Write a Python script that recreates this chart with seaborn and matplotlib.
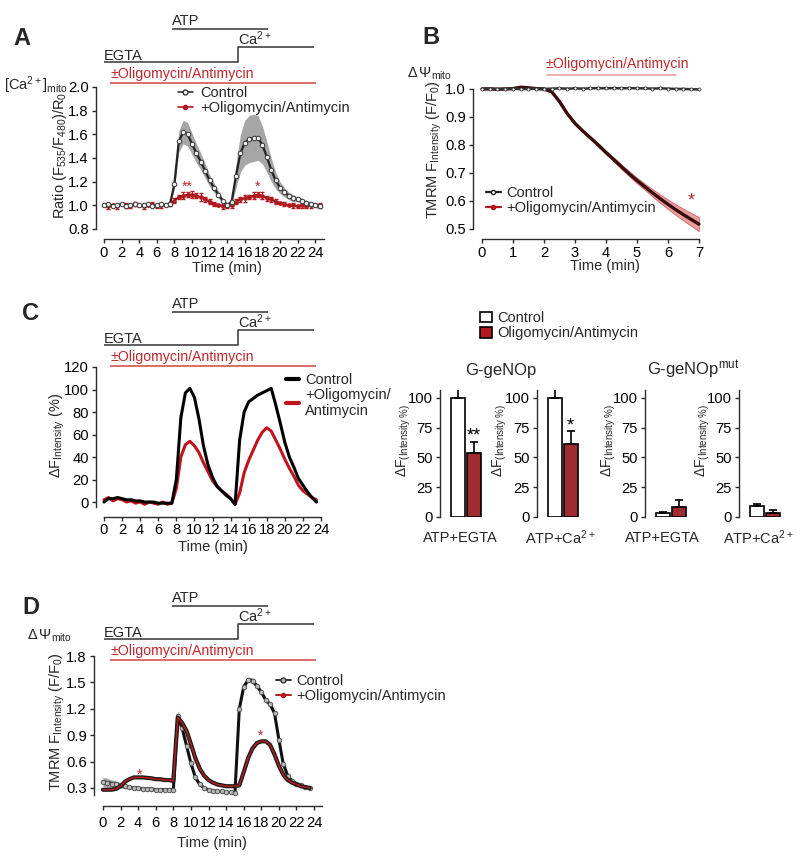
import numpy as np
import pandas as pd
import matplotlib
matplotlib.use('Agg')
import matplotlib.pyplot as plt
import seaborn as sns
from matplotlib.lines import Line2D
from matplotlib.patches import Patch

# ---------------- data ----------------
# Panel A: mitochondrial Ca2+ (ratio)
a_time = [0, 0.5, 1, 1.5, 2, 2.5, 3, 3.5, 4, 4.5, 5, 5.5, 6, 6.5, 7, 7.5, 8, 8.5, 9, 9.5,
          10, 10.5, 11, 11.5, 12, 12.5, 13, 13.5, 14, 14.5, 15, 15.5, 16, 16.5, 17, 17.5,
          18, 18.5, 19, 19.5, 20, 20.5, 21, 21.5, 22, 22.5, 23, 23.5, 24, 24.5]
a_ctrl = [1.00, 1.01, 0.99, 1.00, 1.01, 0.99, 1.00, 1.01, 1.00, 1.00,
          1.01, 0.99, 1.00, 1.01, 1.00, 1.01, 1.18, 1.54, 1.62, 1.60,
          1.52, 1.44, 1.37, 1.29, 1.21, 1.15, 1.09, 1.04, 1.00, 1.03,
          1.25, 1.44, 1.53, 1.56, 1.57, 1.57, 1.51, 1.41, 1.30, 1.21,
          1.15, 1.11, 1.08, 1.06, 1.05, 1.04, 1.02, 1.01, 1.00, 0.99]
a_ctrl_sem = [0.01, 0.01, 0.01, 0.01, 0.01, 0.01, 0.01, 0.01, 0.01, 0.01,
              0.01, 0.01, 0.01, 0.01, 0.01, 0.01, 0.04, 0.09, 0.10, 0.10,
              0.09, 0.08, 0.07, 0.06, 0.05, 0.04, 0.03, 0.02, 0.02, 0.03,
              0.10, 0.16, 0.19, 0.20, 0.20, 0.19, 0.16, 0.13, 0.10, 0.07,
              0.05, 0.04, 0.03, 0.03, 0.02, 0.02, 0.02, 0.02, 0.02, 0.02]
a_oa = [1.00, 0.99, 1.00, 0.99, 1.01, 1.00, 0.99, 1.01, 1.00, 0.99,
        1.00, 1.01, 0.99, 1.00, 1.00, 1.01, 1.04, 1.07, 1.08, 1.09,
        1.09, 1.08, 1.07, 1.05, 1.03, 1.01, 1.00, 0.99, 0.99, 1.00,
        1.03, 1.05, 1.06, 1.07, 1.08, 1.09, 1.08, 1.06, 1.05, 1.03,
        1.02, 1.01, 1.00, 1.00, 0.99, 1.00, 0.99, 1.00, 1.00, 1.00]
a_oa_sem = [0.01, 0.02, 0.01, 0.02, 0.01, 0.02, 0.01, 0.02, 0.01, 0.02,
            0.01, 0.02, 0.01, 0.02, 0.01, 0.02, 0.02, 0.02, 0.03, 0.02,
            0.03, 0.02, 0.03, 0.02, 0.02, 0.02, 0.01, 0.02, 0.01, 0.02,
            0.02, 0.02, 0.03, 0.02, 0.03, 0.02, 0.03, 0.02, 0.02, 0.02,
            0.01, 0.02, 0.01, 0.02, 0.01, 0.02, 0.01, 0.02, 0.01, 0.02]

# Panel B: TMRM
b_time = [0, 0.25, 0.5, 0.75, 1, 1.25, 1.5, 1.75, 2, 2.25, 2.5, 2.75, 3, 3.25, 3.5, 3.75,
          4, 4.25, 4.5, 4.75, 5, 5.25, 5.5, 5.75, 6, 6.25, 6.5, 6.75, 7]
b_ctrl = [1.000, 1.001, 0.999, 1.000, 1.001, 0.999, 1.000, 1.001, 1.000, 1.001, 1.002, 1.001,
          1.002, 1.001, 1.002, 1.003, 1.002, 1.003, 1.002, 1.003, 1.002, 1.002, 1.001, 1.002,
          1.001, 1.000, 1.000, 0.999, 0.998]
b_oa = [1.000, 1.000, 0.999, 1.000, 1.001, 1.006, 1.004, 1.001, 1.000, 0.990, 0.955, 0.912,
        0.877, 0.850, 0.825, 0.800, 0.773, 0.748, 0.722, 0.697, 0.673, 0.651, 0.629, 0.608,
        0.588, 0.569, 0.551, 0.534, 0.517]
b_oa_sem = [0.002, 0.002, 0.002, 0.002, 0.002, 0.003, 0.003, 0.002, 0.002, 0.003, 0.004, 0.004,
            0.005, 0.005, 0.005, 0.006, 0.006, 0.007, 0.008, 0.009, 0.010, 0.011, 0.013, 0.015,
            0.017, 0.019, 0.021, 0.023, 0.025]

# Panel C: G-geNOp traces
c_time = [0, 0.5, 1, 1.5, 2, 2.5, 3, 3.5, 4, 4.5, 5, 5.5, 6, 6.5, 7, 7.5, 8, 8.5, 9, 9.5,
          10, 10.5, 11, 11.5, 12, 12.5, 13, 13.5, 14, 14.5, 15, 15.5, 16, 16.5, 17, 17.5,
          18, 18.5, 19, 19.5, 20, 20.5, 21, 21.5, 22, 22.5, 23, 23.5]
c_ctrl = [0, 3, 3, 4, 3, 2, 2, 1, 1, 0, 0, 0, -1, -1, -1, -1,
          20, 75, 97, 101, 93, 74, 50, 33, 22, 14, 10, 6, 3, -2,
          55, 80, 89, 92, 95, 97, 99, 101, 86, 70, 53, 40, 31, 21, 15, 9, 4, 0]
c_oa = [2, 4, 1, 3, 2, 0, 1, -1, 0, -2, 0, -1, -2, 0, -2, -1,
        12, 40, 51, 54, 50, 44, 35, 27, 19, 14, 10, 7, 3, -2,
        8, 26, 37, 46, 55, 62, 66, 63, 55, 47, 38, 30, 23, 15, 10, 7, 4, 2]

# Panel C: bar charts
bar_groups = ['Control', 'Oligomycin/Antimycin']
bar_titles = ['G-geNOp', 'G-geNOp$^{\\rm mut}$']
bar_conditions = ['ATP+EGTA', 'ATP+Ca$^{2+}$', 'ATP+EGTA', 'ATP+Ca$^{2+}$']
bar_ctrl = [100, 100, 3, 9]
bar_ctrl_sem = [9, 9, 1.5, 2]
bar_oa = [54, 61, 8, 3]
bar_oa_sem = [9, 11, 6, 3]
bar_stars = ['**', '*', '', '']

# Panel D: TMRM during ATP / Ca2+
d_time = c_time
d_ctrl = [0.37, 0.36, 0.35, 0.34, 0.33, 0.32, 0.31, 0.30, 0.30, 0.29, 0.29, 0.29, 0.28, 0.28, 0.28, 0.28, 0.28,
          1.12, 0.98, 0.78, 0.58, 0.42, 0.34, 0.30, 0.28, 0.27, 0.26, 0.26, 0.25, 0.25, 0.24,
          1.20, 1.45, 1.53, 1.52, 1.46, 1.39, 1.30, 1.25, 1.15, 0.85, 0.57, 0.44, 0.38, 0.35, 0.33, 0.31, 0.30]
d_ctrl_sem = [0.05, 0.05, 0.04, 0.04, 0.03, 0.03, 0.02, 0.02, 0.02, 0.02, 0.02, 0.02, 0.02, 0.02, 0.02, 0.02, 0.02,
              0.06, 0.05, 0.04, 0.03, 0.02, 0.02, 0.02, 0.01, 0.01, 0.01, 0.01, 0.01, 0.01, 0.01,
              0.03, 0.03, 0.03, 0.03, 0.03, 0.03, 0.03, 0.03, 0.03, 0.02, 0.02, 0.02, 0.01, 0.01, 0.01, 0.01, 0.01]
d_oa = [0.28, 0.28, 0.28, 0.29, 0.32, 0.37, 0.40, 0.42, 0.42, 0.42, 0.415, 0.41, 0.40, 0.40, 0.39, 0.39, 0.38,
        1.10, 1.04, 0.95, 0.80, 0.64, 0.52, 0.44, 0.39, 0.36, 0.34, 0.33, 0.32, 0.32, 0.32,
        0.33, 0.48, 0.64, 0.75, 0.81, 0.83, 0.83, 0.79, 0.68, 0.55, 0.45, 0.39, 0.36, 0.34, 0.32, 0.31, 0.30]

# ---------------- style ----------------
sns.set_theme(style='ticks')
plt.rcParams.update({
    'font.family': ['Liberation Sans', 'DejaVu Sans'],
    'mathtext.fontset': 'custom',
    'mathtext.rm': 'Liberation Sans',
    'mathtext.it': 'Liberation Sans:italic',
    'mathtext.bf': 'Liberation Sans:bold',
    'axes.linewidth': 1.0,
    'axes.edgecolor': '#2b2b2b',
    'xtick.major.width': 1.0,
    'ytick.major.width': 1.0,
    'xtick.major.size': 3.2,
    'ytick.major.size': 3.2,
    'xtick.color': '#2b2b2b',
    'ytick.color': '#2b2b2b',
    'xtick.labelcolor': 'black',
    'ytick.labelcolor': 'black',
})

RED = '#b3191e'
TXTRED = '#c0282d'
TICKFS = 10.6
W, H = 800, 860
fig = plt.figure(figsize=(8, 8.6), dpi=100)


def add_ax(l, r, t, b):
    return fig.add_axes([l / W, 1 - b / H, (r - l) / W, (b - t) / H])


def ftext(x, y, s, **kw):
    return fig.text(x / W, 1 - y / H, s, **kw)


def fline(xs, ys, **kw):
    fig.add_artist(Line2D([x / W for x in xs], [1 - y / H for y in ys], **kw))


def style_ax(ax, xlim, ylim, xb, yb, xticks, yticks, fmt):
    ax.set_xlim(*xlim)
    ax.set_ylim(*ylim)
    for s in ('top', 'right'):
        ax.spines[s].set_visible(False)
    ax.spines['bottom'].set_bounds(*xb)
    ax.spines['left'].set_bounds(*yb)
    ax.set_xticks(xticks)
    ax.set_yticks(yticks)
    ax.set_yticklabels([fmt.format(v) for v in yticks])
    ax.tick_params(labelsize=TICKFS, pad=2)
    ax.set_xlabel('')
    ax.set_ylabel('')
    ax.set_facecolor('none')


def header(dy):
    k = dict(color='#333333', lw=1.1, solid_capstyle='butt')
    fline([172, 268], [29 + dy, 29 + dy], **k)
    fline([104, 238, 238, 314], [62 + dy, 62 + dy, 47 + dy, 47 + dy], **k)
    fline([110, 316], [83 + dy, 83 + dy], color='#d04545', lw=1.1, solid_capstyle='butt')
    ftext(172, 25 + dy, 'ATP', ha='left', va='baseline', fontsize=10.5)
    ftext(238, 45 + dy, 'Ca$^{2+}$', ha='left', va='baseline', fontsize=10.5)
    ftext(104, 60 + dy, 'EGTA', ha='left', va='baseline', fontsize=10.5)
    ftext(110, 78 + dy, '\u00b1Oligomycin/Antimycin', ha='left', va='baseline',
          fontsize=10.2, color=TXTRED)


even_ticks = list(range(0, 25, 2))

# ---------------- Panel A ----------------
ftext(13, 45, 'A', fontsize=17, fontweight='bold', va='baseline')
header(0)
axA = add_ax(96, 324, 87, 239)
axA.fill_between(a_time, np.array(a_ctrl) - np.array(a_ctrl_sem),
                 np.array(a_ctrl) + np.array(a_ctrl_sem), color='#a6a6a6', lw=0)
axA.errorbar(a_time, a_oa, yerr=a_oa_sem, fmt='none', ecolor=RED, elinewidth=0.7, capsize=1.2)
sns.lineplot(x=a_time, y=a_oa, ax=axA, color='#7a1010', lw=1.4, marker='o', markersize=2.8,
             markerfacecolor=RED, markeredgecolor=RED, markeredgewidth=0.5)
sns.lineplot(x=a_time, y=a_ctrl, ax=axA, color='#222222', lw=1.6, marker='o', markersize=3.2,
             markerfacecolor='white', markeredgecolor='#444444', markeredgewidth=0.8)
style_ax(axA, (-0.909, 25), (0.715, 2.0), (0, 25), (0.8, 2.0), even_ticks,
         [0.8, 1.0, 1.2, 1.4, 1.6, 1.8, 2.0], '{:.1f}')
axA.text(9.45, 1.12, '**', color=TXTRED, fontsize=10, ha='center', va='baseline')
axA.text(17.4, 1.12, '*', color=TXTRED, fontsize=10, ha='center', va='baseline')
ftext(60, 155, 'Ratio (F$_{535}$/F$_{480}$)/R$_0$', rotation=90, ha='center', va='center', fontsize=10.5)
ftext(4, 90, '[Ca$^{2+}$]$_{\\rm mito}$', ha='left', va='baseline', fontsize=10.5)
ftext(227, 268, 'Time (min)', ha='center', va='center', fontsize=10.5)
hA = [Line2D([0], [0], color='#333333', lw=1.2, marker='o', ms=3.5, mfc='white', mec='#333333'),
      Line2D([0], [0], color=RED, lw=1.2, marker='o', ms=3, mfc=RED, mec=RED)]
axA.legend(hA, ['Control', '+Oligomycin/Antimycin'], loc='upper left',
           bbox_to_anchor=(178 / W, 1 - 86 / H), bbox_transform=fig.transFigure,
           frameon=False, fontsize=10.5, handlelength=1.0, handletextpad=0.5,
           labelspacing=0.05, borderpad=0, borderaxespad=0)

# ---------------- Panel B ----------------
ftext(422, 44, 'B', fontsize=17, fontweight='bold', va='baseline')
fline([547, 676], [75, 75], color='#e59a9a', lw=1.1)
ftext(546, 68, '\u00b1Oligomycin/Antimycin', ha='left', va='baseline', fontsize=10.2, color=TXTRED)
axB = add_ax(473, 702, 85, 239)
axB.fill_between(b_time, np.array(b_oa) - np.array(b_oa_sem), np.array(b_oa) + np.array(b_oa_sem),
                 color='#dd7777', alpha=0.7, lw=0.6, edgecolor='#c43a3a')
sns.lineplot(x=b_time, y=b_oa, ax=axB, color='#3a0c0c', lw=2.4)
sns.lineplot(x=b_time, y=b_ctrl, ax=axB, color='#333333', lw=1.8, marker='o', markersize=2.2,
             markerfacecolor='white', markeredgecolor='#333333', markeredgewidth=0.6)
style_ax(axB, (-0.29, 7.1), (0.464, 1.014), (0, 7), (0.5, 1.0), list(range(0, 8)),
         [0.5, 0.6, 0.7, 0.8, 0.9, 1.0], '{:.1f}')
axB.text(6.74, 0.582, '*', color=TXTRED, fontsize=13, ha='center', va='baseline')
ftext(434, 150, 'TMRM F$_{\\rm Intensity}$ (F/F$_0$)', rotation=90, ha='center', va='center', fontsize=10.5)
ftext(407, 78, '$\\Delta\\,\\mathit{\\Psi}_{\\rm mito}$', ha='left', va='baseline', fontsize=10.5)
ftext(605, 266, 'Time (min)', ha='center', va='center', fontsize=10.5)
hB = [Line2D([0], [0], color='#222222', lw=1.6, marker='o', ms=3, mfc='white', mec='#222222'),
      Line2D([0], [0], color=RED, lw=1.6, marker='o', ms=3, mfc=RED, mec=RED)]
axB.legend(hB, ['Control', '+Oligomycin/Antimycin'], loc='upper left',
           bbox_to_anchor=(486 / W, 1 - 186 / H), bbox_transform=fig.transFigure,
           frameon=False, fontsize=10.5, handlelength=1.0, handletextpad=0.4,
           labelspacing=0.05, borderpad=0, borderaxespad=0)

# ---------------- Panel C (traces) ----------------
ftext(22, 320, 'C', fontsize=17, fontweight='bold', va='baseline')
header(283)
axC = add_ax(96, 321, 367, 517)
sns.lineplot(x=c_time, y=c_oa, ax=axC, color='#c0141c', lw=2.2)
sns.lineplot(x=c_time, y=c_ctrl, ax=axC, color='black', lw=2.2)
style_ax(axC, (-0.885, 24), (-13.3, 120), (0, 24), (-4, 120), even_ticks,
         [0, 20, 40, 60, 80, 100, 120], '{:d}')
axC.tick_params(axis='x', pad=0.8)
ftext(57, 435, '$\\Delta$F$_{\\rm Intensity}$ (%)', rotation=90, ha='center', va='center', fontsize=10.5)
ftext(213, 547, 'Time (min)', ha='center', va='center', fontsize=10.5)
hC = [Line2D([0], [0], color='black', lw=3), Line2D([0], [0], color='#c0141c', lw=3)]
axC.legend(hC, ['Control', '+Oligomycin/\nAntimycin'], loc='upper left',
           bbox_to_anchor=(286 / W, 1 - 373 / H), bbox_transform=fig.transFigure,
           frameon=False, fontsize=10.5, handlelength=0.9, handletextpad=0.4,
           labelspacing=0.05, borderpad=0, borderaxespad=0)

# ---------------- Panel C (bars) ----------------
bar_lefts = [440, 537, 645, 739]
bar_label_x = [404, 500, 609, 703]
bar_cond_x = [460, 560, 662, 758]
for i in range(4):
    ax = add_ax(bar_lefts[i], bar_lefts[i] + 49.6, 390, 517)
    df = pd.DataFrame({'group': bar_groups, 'value': [bar_ctrl[i], bar_oa[i]]})
    sns.barplot(data=df, x='group', y='value', hue='group', palette=['white', RED],
                edgecolor='black', linewidth=1.2, width=0.875, errorbar=None,
                legend=False, ax=ax)
    ax.errorbar([0, 1], [bar_ctrl[i], bar_oa[i]],
                yerr=[[0, 0], [bar_ctrl_sem[i], bar_oa_sem[i]]],
                fmt='none', ecolor='black', elinewidth=1.2, capsize=2.6, capthick=1.2, zorder=1)
    ax.set_xlim(-1.1, 2.0)
    ax.set_ylim(0, 106.7)
    for s in ('top', 'right', 'bottom'):
        ax.spines[s].set_visible(False)
    ax.set_xticks([])
    ax.set_yticks([0, 25, 50, 75, 100])
    ax.tick_params(axis='y', labelsize=TICKFS, pad=2)
    ax.set_xlabel('')
    ax.set_ylabel('')
    ax.set_facecolor('none')
    if bar_stars[i]:
        ax.text(1, bar_oa[i] + bar_oa_sem[i] + 1.0, bar_stars[i], fontsize=13,
                ha='center', va='baseline', color='black')
    ftext(bar_label_x[i], 440, '$\\Delta$F$_{\\rm (Intensity\\ \\%)}$', rotation=90,
          ha='center', va='center', fontsize=10)
    ftext(bar_cond_x[i], 538, bar_conditions[i], ha='center', va='center', fontsize=10.5)
    if i == 0:
        hBar = [Patch(facecolor='white', edgecolor='black', lw=1.2),
                Patch(facecolor=RED, edgecolor='black', lw=1.2)]
        ax.legend(hBar, bar_groups, loc='upper left',
                  bbox_to_anchor=(480 / W, 1 - 311 / H), bbox_transform=fig.transFigure,
                  frameon=False, fontsize=10.5, handlelength=0.8, handleheight=0.75,
                  handletextpad=0.35, labelspacing=0.1, borderpad=0, borderaxespad=0)
ftext(501, 370, bar_titles[0], ha='center', va='center', fontsize=12)
ftext(693, 370, bar_titles[1], ha='center', va='center', fontsize=12)

# ---------------- Panel D ----------------
ftext(22, 614, 'D', fontsize=17, fontweight='bold', va='baseline')
header(577)
axD = add_ax(94, 322, 656, 806)
axD.fill_between(d_time, np.array(d_ctrl) - np.array(d_ctrl_sem),
                 np.array(d_ctrl) + np.array(d_ctrl_sem), color='#a0a0a0', lw=0)
sns.lineplot(x=d_time, y=d_ctrl, ax=axD, color='#111111', lw=2.2, marker='o', markersize=3.2,
             markerfacecolor='#bbbbbb', markeredgecolor='#555555', markeredgewidth=0.7)
sns.lineplot(x=d_time, y=d_oa, ax=axD, color='#1a1a1a', lw=3.0)
sns.lineplot(x=d_time, y=d_oa, ax=axD, color='#b51f1f', lw=1.1)
style_ax(axD, (-1.02, 24.9), (0.095, 1.8), (0, 24.9), (0.22, 1.8), even_ticks,
         [0.3, 0.6, 0.9, 1.2, 1.5, 1.8], '{:.1f}')
axD.tick_params(axis='x', pad=4)
axD.text(4.1, 0.406, '*', color=TXTRED, fontsize=10, ha='center', va='baseline')
axD.text(17.9, 0.849, '*', color=TXTRED, fontsize=10, ha='center', va='baseline')
ftext(57, 722, 'TMRM F$_{\\rm Intensity}$ (F/F$_0$)', rotation=90, ha='center', va='center', fontsize=10.5)
ftext(27, 640, '$\\Delta\\,\\mathit{\\Psi}_{\\rm mito}$', ha='left', va='baseline', fontsize=10.5)
ftext(212, 843, 'Time (min)', ha='center', va='center', fontsize=10.5)
hD = [Line2D([0], [0], color='#333333', lw=1.4, marker='o', ms=3.5, mfc='#bbbbbb', mec='#333333'),
      Line2D([0], [0], color=RED, lw=1.4, marker='o', ms=3, mfc=RED, mec=RED)]
axD.legend(hD, ['Control', '+Oligomycin/Antimycin'], loc='upper left',
           bbox_to_anchor=(276 / W, 1 - 674 / H), bbox_transform=fig.transFigure,
           frameon=False, fontsize=10.5, handlelength=1.0, handletextpad=0.4,
           labelspacing=0.05, borderpad=0, borderaxespad=0)

fig.savefig('out.png', dpi=100)
